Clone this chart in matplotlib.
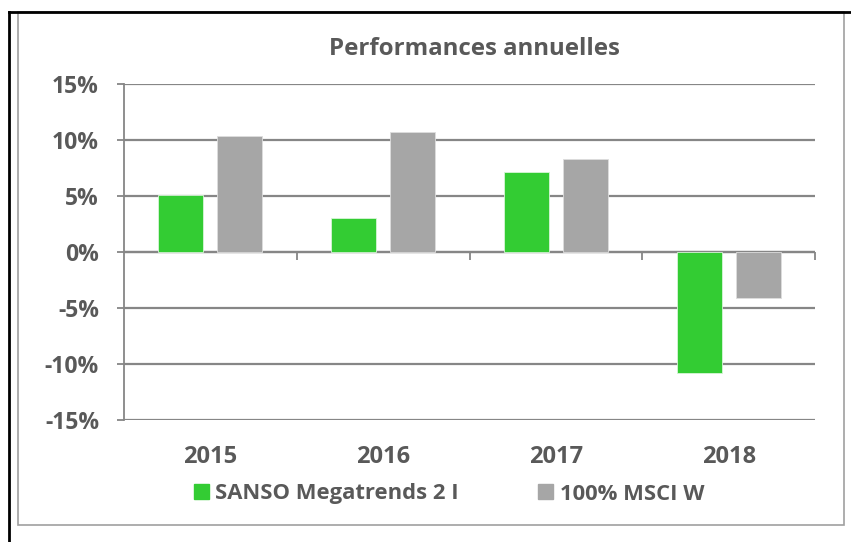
import matplotlib.pyplot as plt
import matplotlib.transforms as mtransforms
import numpy as np
from matplotlib.lines import Line2D
from matplotlib.patches import Rectangle, Patch

plt.rcParams["font.family"] = ["Open Sans", "DejaVu Sans"]

years = ["2015", "2016", "2017", "2018"]
sanso = [5.1, 3.0, 7.1, -10.8]
msci = [10.4, 10.7, 8.3, -4.1]
series_names = ["SANSO Megatrends 2 I", "100% MSCI W"]

W, H = 851, 542
fig = plt.figure(figsize=(W / 100, H / 100), dpi=100)
ax = fig.add_axes([124 / W, 1 - 420 / H, (815 - 124) / W, (420 - 84) / H])

txt = "#595959"
grid = "#868686"
green = "#33CC33"
grey = "#A6A6A6"

x = np.arange(len(years))
w = 0.26
off = 0.171
ax.bar(x - off, sanso, w, color=green, edgecolor="#d8f5d8", linewidth=0.6, zorder=3)
ax.bar(x + off, msci, w, color=grey, edgecolor="#dddddd", linewidth=0.6, zorder=3)

ax.set_xlim(-0.5, len(years) - 0.5)
ax.set_ylim(-15, 15)
ax.set_yticks(np.arange(-15, 16, 5))
ax.set_yticklabels([f"{v}%" for v in range(-15, 16, 5)])
ax.yaxis.grid(True, color=grid, lw=1.6, zorder=1)

for s in ["top", "right", "bottom"]:
    ax.spines[s].set_visible(False)
ax.spines["left"].set_color(grid)
ax.spines["left"].set_linewidth(1.3)

ax.tick_params(axis="y", colors=grid, length=5, width=1.3, pad=13,
               labelcolor=txt, labelsize=16.5)
for lab in ax.get_yticklabels():
    lab.set_fontweight("bold")

ax.set_xticks(x)
ax.set_xticklabels(years, fontsize=17, fontweight="bold", color=txt)
ax.tick_params(axis="x", length=0, pad=18)

# zero line with category separators
ax.axhline(0, color=grid, lw=1.6, zorder=2)
zero_tr = mtransforms.blended_transform_factory(ax.transAxes, ax.transData)
sec = ax.secondary_xaxis(0, transform=zero_tr)
sec.set_xticks(np.arange(0.5, len(years), 1))
sec.set_xticklabels([])
sec.tick_params(axis="x", length=6, width=1.3, color=grid, direction="out")
sec.spines["bottom"].set_visible(False)

fig.text(474 / W, 1 - 49 / H, "Performances annuelles", ha="center", va="center",
         fontsize=17.3, fontweight="bold", color=txt)

handles = [Patch(color=green), Patch(color=grey)]
leg = fig.legend(handles, series_names, loc="center", ncol=2,
                 bbox_to_anchor=(449 / W, 1 - 494 / H), frameon=False,
                 prop={"size": 15.8, "weight": "bold"}, handlelength=0.68,
                 handleheight=0.68, handletextpad=0.3, columnspacing=3.6)
for t in leg.get_texts():
    t.set_color(txt)

# frames
fig.add_artist(Rectangle((18 / W, 1 - 525 / H), (844 - 18) / W, (525 - 12) / H,
                         transform=fig.transFigure, fill=False,
                         edgecolor="#a0a0a0", lw=1.2))
fig.add_artist(Line2D([9 / W, 1], [1 - 11.5 / H, 1 - 11.5 / H],
                      transform=fig.transFigure, color="black", lw=2))
fig.add_artist(Line2D([9 / W, 9 / W], [0, 1 - 11.5 / H],
                      transform=fig.transFigure, color="black", lw=2))

fig.savefig("out.png", dpi=100)
